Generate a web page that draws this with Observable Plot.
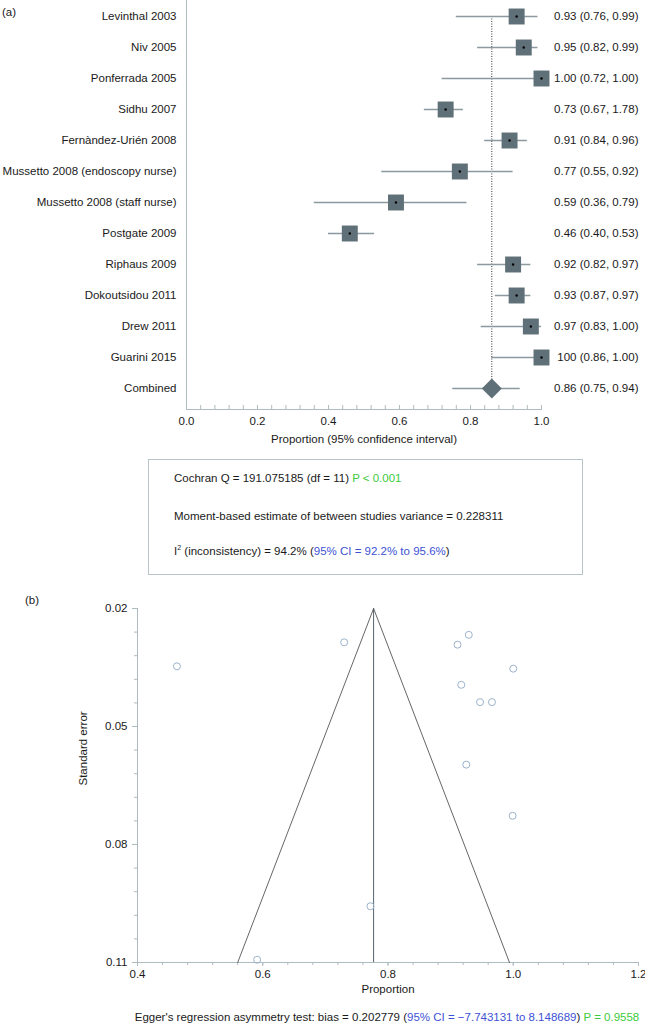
<!DOCTYPE html>
<html><head><meta charset="utf-8">
<script src="https://cdn.jsdelivr.net/npm/d3@7"></script>
<script src="https://cdn.jsdelivr.net/npm/@observablehq/plot@0.6"></script>
<style>
body{margin:0;background:#fff;font-family:"Liberation Sans",Arial,sans-serif;color:#1a1a1a;}
#wrap{position:relative;width:645px;height:1024px;overflow:hidden;}
.abs{position:absolute;font-size:11.5px;white-space:nowrap;line-height:14px;}
.g{color:#3ccb3c}.b{color:#3d52d5}
#box{position:absolute;left:148px;top:459px;width:433px;height:114px;border:1px solid #b7c4c8;box-sizing:content-box;}
#forest,#funnel{position:absolute;left:0;}
#forest{top:0}#funnel{top:590px}
</style></head><body><div id="wrap">
<div id="forest"></div>
<div class="abs" style="left:2px;top:5px;">(a)</div>
<div id="box"></div>
<div class="abs" style="left:174px;top:471px;">Cochran Q = 191.075185 (df = 11) <span class="g">P &lt; 0.001</span></div>
<div class="abs" style="left:174px;top:509px;">Moment-based estimate of between studies variance = 0.228311</div>
<div class="abs" style="left:174px;top:544px;">I<sup style="font-size:7px;line-height:0">2</sup> (inconsistency) = 94.2% (<span class="b">95% CI = 92.2% to 95.6%</span>)</div>
<div id="funnel"></div>
<div class="abs" style="left:25px;top:593px;">(b)</div>
<div class="abs" style="left:387px;top:1010px;transform:translateX(-50%);">Egger's regression asymmetry test: bias = 0.202779 (<span class="b">95% CI = &minus;7.743131 to 8.148689</span>) <span class="g">P = 0.9558</span></div>
</div>
<script>
// ---- Forest plot data ----
const studies = ["Levinthal 2003","Niv 2005","Ponferrada 2005","Sidhu 2007","Fernàndez-Urién 2008","Mussetto 2008 (endoscopy nurse)","Mussetto 2008 (staff nurse)","Postgate 2009","Riphaus 2009","Dokoutsidou 2011","Drew 2011","Guarini 2015"];
const estimates = [0.93,0.95,1.00,0.73,0.91,0.77,0.59,0.46,0.92,0.93,0.97,1.00];
const lower = [0.76,0.82,0.72,0.67,0.84,0.55,0.36,0.40,0.82,0.87,0.83,0.86];
const upper = [0.99,0.99,1.00,0.78,0.96,0.92,0.79,0.53,0.97,0.97,1.00,1.00];
const ciLabels = ["0.93 (0.76, 0.99)","0.95 (0.82, 0.99)","1.00 (0.72, 1.00)","0.73 (0.67, 1.78)","0.91 (0.84, 0.96)","0.77 (0.55, 0.92)","0.59 (0.36, 0.79)","0.46 (0.40, 0.53)","0.92 (0.82, 0.97)","0.93 (0.87, 0.97)","0.97 (0.83, 1.00)","100 (0.86, 1.00)"];
const combinedName = "Combined";
const combinedEst = 0.86, combinedLo = 0.75, combinedHi = 0.94;
const combinedLabel = "0.86 (0.75, 0.94)";
const forestTicks = [0,0.2,0.4,0.6,0.8,1.0];
const forestMinor = [0,0.04,0.08,0.12,0.16,0.2,0.24,0.28,0.32,0.36,0.4,0.44,0.48,0.52,0.56,0.6,0.64,0.68,0.72,0.76,0.8,0.84,0.88,0.92,0.96,1.0];

// ---- Funnel plot data ----
const funnelProp = [0.463,0.730,0.929,0.911,1.000,0.917,0.947,0.966,0.925,0.999,0.772,0.591];
const funnelSE = [0.0347,0.0286,0.0267,0.0292,0.0353,0.0394,0.0438,0.0438,0.0597,0.0727,0.0957,0.1093];
const pooled = 0.777;
const funnelLineX = [0.56,0.777,0.994];
const funnelLineY = [0.11,0.02,0.11];
const funnelXTicks = [0.4,0.6,0.8,1.0,1.2];
const funnelXMinor = [0.4,0.44,0.48,0.52,0.56,0.6,0.64,0.68,0.72,0.76,0.8,0.84,0.88,0.92,0.96,1.0,1.04,1.08,1.12,1.16,1.2];
const funnelYTicks = [0.02,0.05,0.08,0.11];
const funnelYMinor = [0.02,0.026,0.032,0.038,0.044,0.05,0.056,0.062,0.068,0.074,0.08,0.086,0.092,0.098,0.104,0.11];

const font = '"Liberation Sans", Arial, sans-serif';
const axisC = "#aebbc1";

const rows = studies.map((s,i)=>({name:s, est:estimates[i], lo:lower[i], hi:upper[i], label:ciLabels[i]}));
const comb = {name:combinedName, est:combinedEst, lo:combinedLo, hi:combinedHi, label:combinedLabel};
const all = [...rows, comb];

const forest = Plot.plot({
  width:645, height:455, marginLeft:186, marginRight:104, marginTop:0, marginBottom:46,
  style:{fontSize:"11.5px", fontFamily:font, color:"#1a1a1a", background:"transparent", overflow:"visible"},
  x:{domain:[0,1], label:null},
  y:{type:"point", domain:all.map(d=>d.name), range:[12,392], padding:0, label:null},
  marks:[
    Plot.ruleX([0],{stroke:axisC}),
    Plot.frame({anchor:"bottom", stroke:axisC}),
    Plot.axisX({ticks:forestMinor, tickSize:-4, tickFormat:()=>"", stroke:axisC}),
    Plot.axisX({ticks:forestTicks, tickSize:0, tickPadding:7, tickFormat:d3.format(".1f")}),
    Plot.axisY({tickSize:0, tickPadding:10}),
    Plot.ruleX([comb],{x:"est", y1:()=>studies[0], y2:()=>combinedName, stroke:"#333", strokeDasharray:"1,1.5"}),
    Plot.ruleY(all,{y:"name", x1:"lo", x2:"hi", stroke:"#8c999e", strokeWidth:1.3}),
    Plot.dot(rows,{x:"est", y:"name", symbol:"square", r:9, fill:"#607078"}),
    Plot.dot([comb],{x:"est", y:"name", symbol:"diamond2", r:9, fill:"#607078"}),
    Plot.dot(rows,{x:"est", y:"name", r:1.2, fill:"#000"}),
    Plot.text(all,{y:"name", text:"label", frameAnchor:"right", textAnchor:"end", dx:97}),
    Plot.text(["Proportion (95% confidence interval)"],{frameAnchor:"bottom", dy:33})
  ]
});
document.getElementById("forest").append(forest);

const pts = funnelProp.map((p,i)=>({p, se:funnelSE[i]}));
const fl = funnelLineX.map((x,i)=>({x, y:funnelLineY[i]}));
const funnel = Plot.plot({
  width:645, height:412, marginLeft:137, marginRight:7, marginTop:18, marginBottom:40,
  style:{fontSize:"11.5px", fontFamily:font, color:"#1a1a1a", background:"transparent", overflow:"visible"},
  x:{domain:[0.4,1.2], label:null},
  y:{domain:[0.02,0.11], reverse:true, label:null},
  marks:[
    Plot.ruleX([0.4],{stroke:axisC}),
    Plot.ruleY([0.11],{stroke:axisC}),
    Plot.axisX({ticks:funnelXMinor, tickSize:3, tickFormat:()=>"", stroke:axisC}),
    Plot.axisX({ticks:funnelXTicks, tickSize:4, tickPadding:3, tickFormat:d3.format(".1f"), stroke:axisC}),
    Plot.axisY({ticks:funnelYMinor, tickSize:3, tickFormat:()=>"", stroke:axisC}),
    Plot.axisY({ticks:funnelYTicks, tickSize:5, tickPadding:5, tickFormat:d3.format(".2f"), stroke:axisC}),
    Plot.ruleX([pooled],{y1:0.02, y2:0.11, stroke:"#55636a"}),
    Plot.line(fl,{x:"x", y:"y", stroke:"#555", strokeWidth:0.9}),
    Plot.dot(pts,{x:"p", y:"se", r:3.5, stroke:"#9cb3cb", fill:"none", strokeWidth:1}),
    Plot.text(["Proportion"],{frameAnchor:"bottom", dy:30}),
    Plot.text(["Standard error"],{frameAnchor:"left", rotate:-90, dx:-54})
  ]
});
document.getElementById("funnel").append(funnel);
</script>
</body></html>
